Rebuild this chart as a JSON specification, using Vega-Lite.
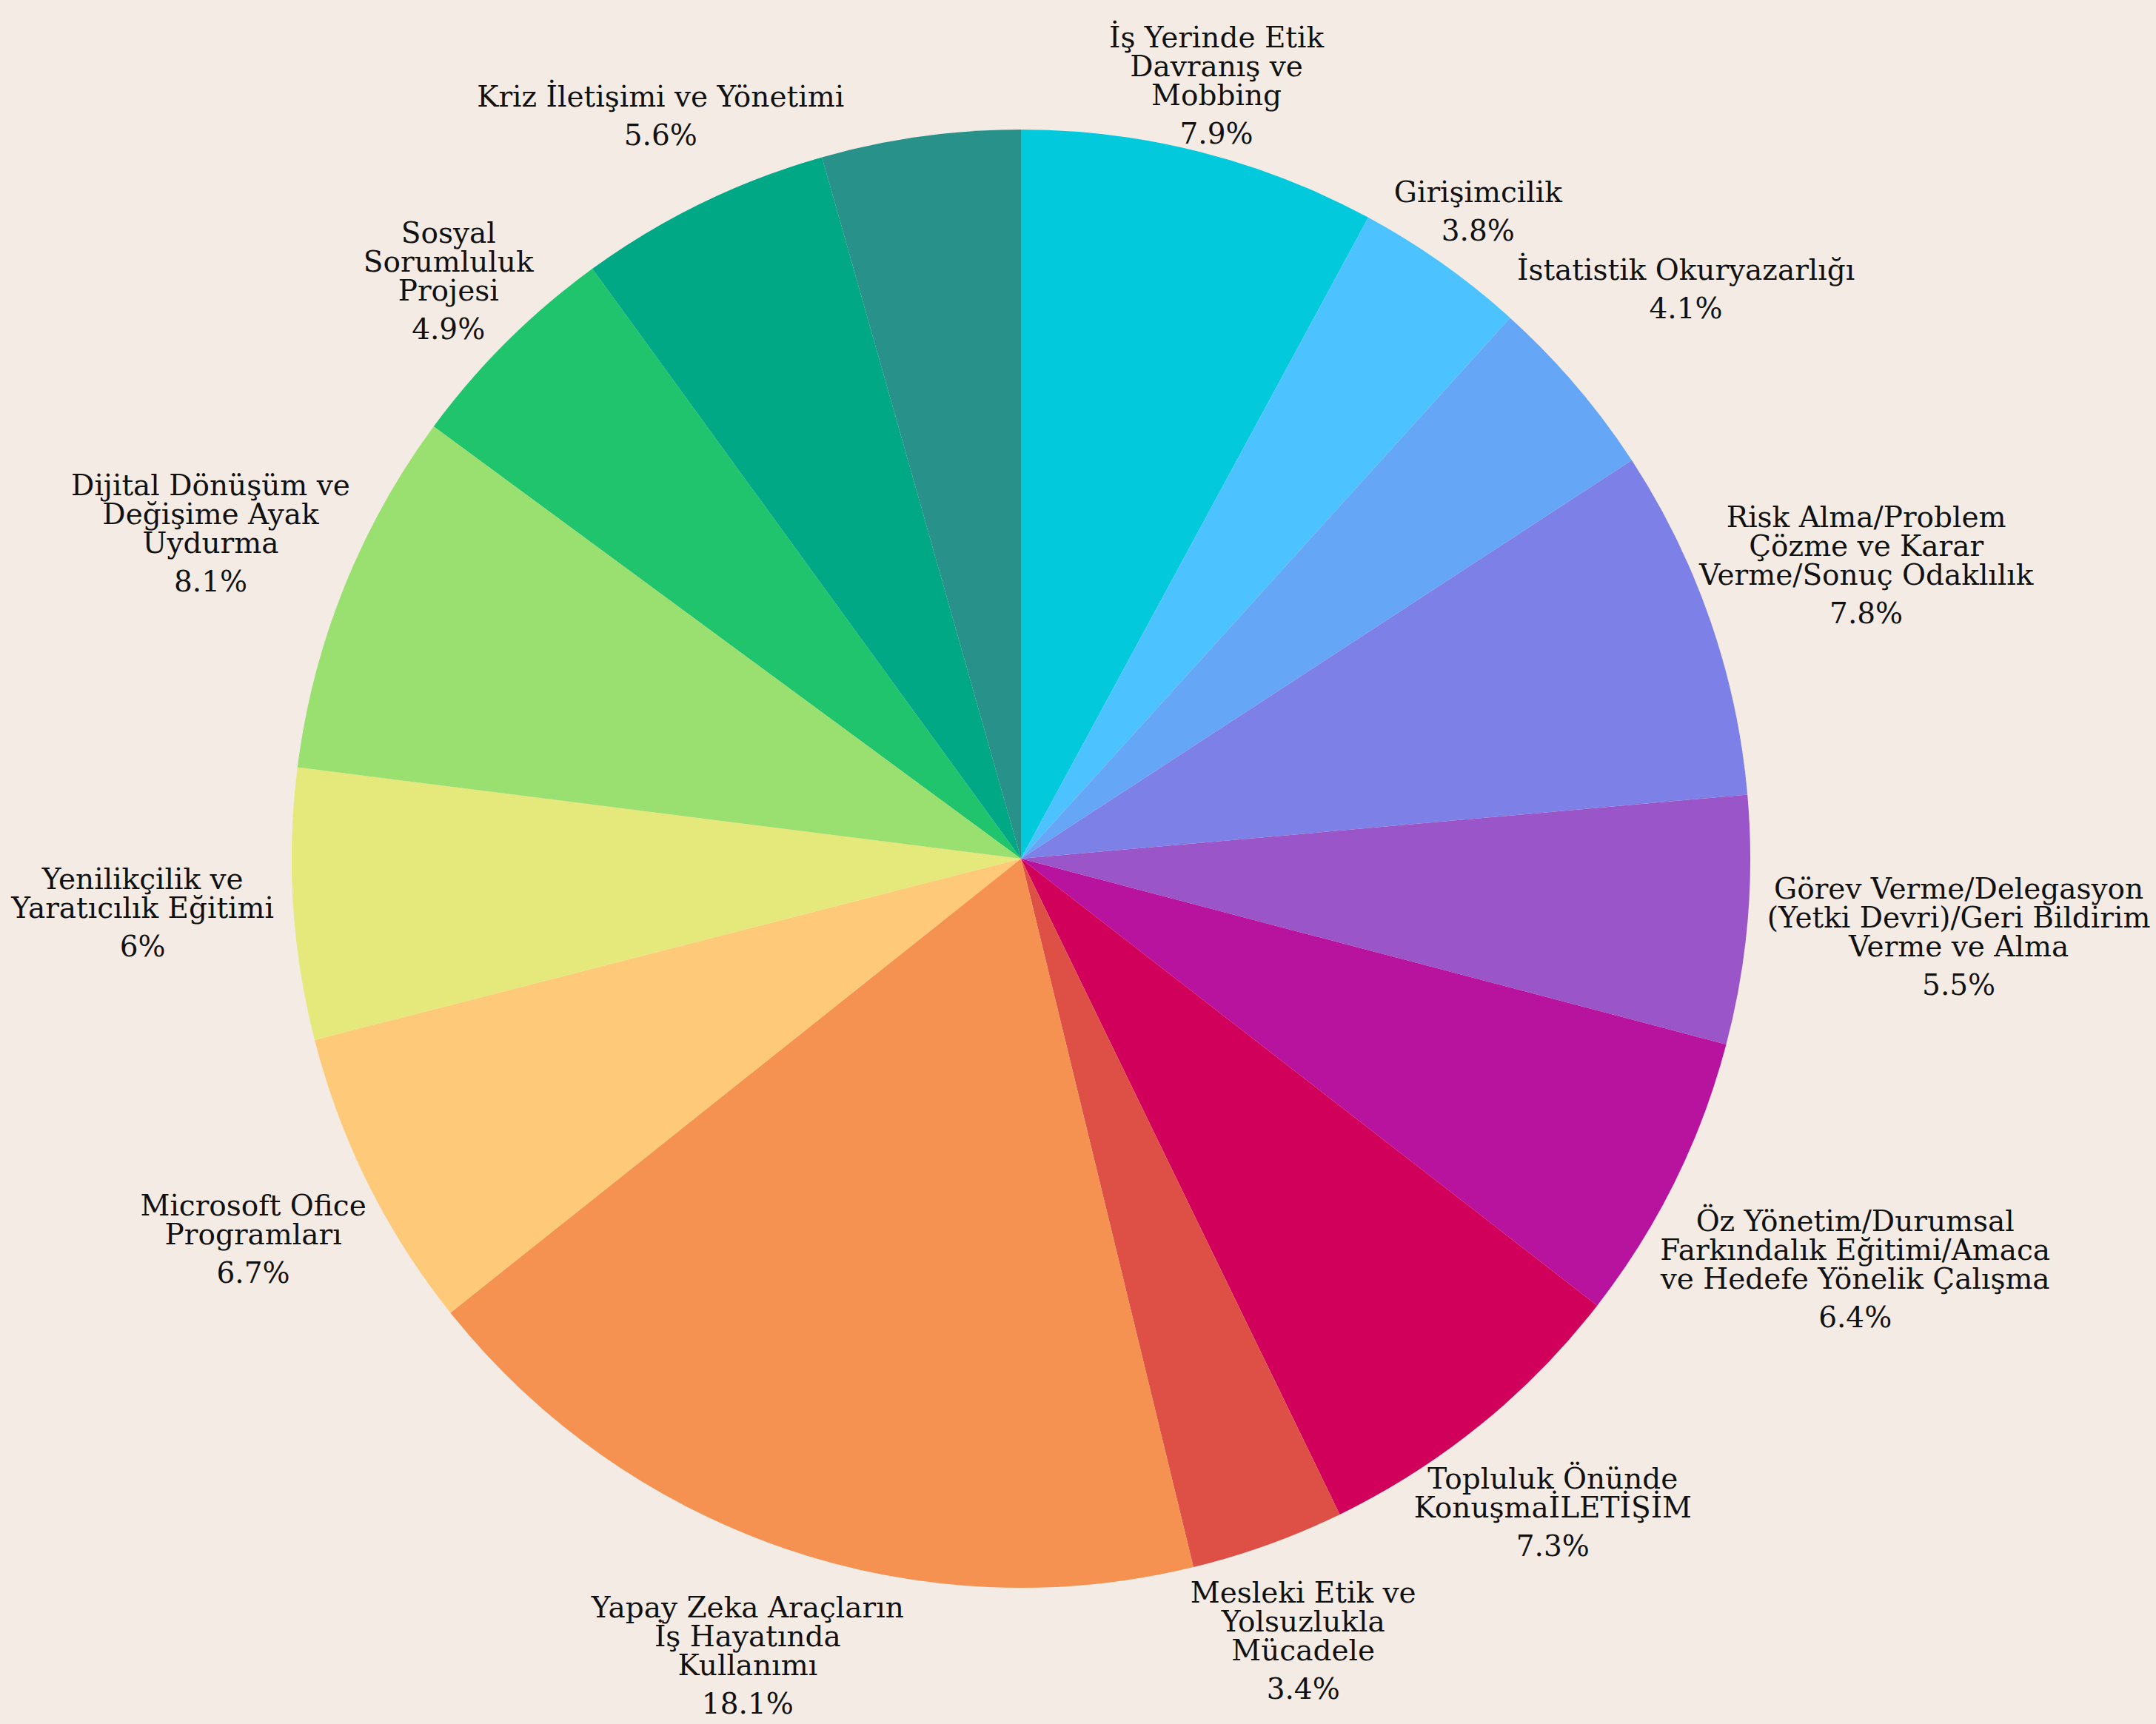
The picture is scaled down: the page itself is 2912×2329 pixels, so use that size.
{
  "$schema": "https://vega.github.io/schema/vega-lite/v6.json",
  "width": 2758,
  "height": 2320,
  "autosize": "none",
  "padding": {"left": 0, "top": 0, "right": 154, "bottom": 9},
  "background": "#F4ECE4",
  "config": {"view": {"stroke": null}},
  "data": {
    "values": [
      {"i": 1, "name": "İş Yerinde Etik\nDavranış ve\nMobbing", "share": 0.079},
      {"i": 2, "name": "Girişimcilik", "share": 0.038},
      {"i": 3, "name": "İstatistik Okuryazarlığı", "share": 0.041},
      {"i": 4, "name": "Risk Alma/Problem\nÇözme ve Karar\nVerme/Sonuç Odaklılık", "share": 0.078},
      {"i": 5, "name": "Görev Verme/Delegasyon\n(Yetki Devri)/Geri Bildirim\nVerme ve Alma", "share": 0.055},
      {"i": 6, "name": "Öz Yönetim/Durumsal\nFarkındalık Eğitimi/Amaca\nve Hedefe Yönelik Çalışma", "share": 0.064},
      {"i": 7, "name": "Topluluk Önünde\nKonuşmaİLETİŞİM", "share": 0.073},
      {"i": 8, "name": "Mesleki Etik ve\nYolsuzlukla\nMücadele", "share": 0.034},
      {"i": 9, "name": "Yapay Zeka Araçların\nİş Hayatında\nKullanımı", "share": 0.181},
      {"i": 10, "name": "Microsoft Ofice\nProgramları", "share": 0.067},
      {"i": 11, "name": "Yenilikçilik ve\nYaratıcılık Eğitimi", "share": 0.06},
      {"i": 12, "name": "Dijital Dönüşüm ve\nDeğişime Ayak\nUydurma", "share": 0.081},
      {"i": 13, "name": "Sosyal\nSorumluluk\nProjesi", "share": 0.049},
      {"i": 14, "name": "Kriz İletişimi ve Yönetimi", "share": 0.056},
      {"i": 15, "name": "", "share": 0.044}
    ]
  },
  "encoding": {
    "theta": {"field": "share", "type": "quantitative", "stack": true},
    "order": {"field": "i", "type": "quantitative"},
    "detail": {"field": "name", "type": "nominal"}
  },
  "layer": [
    {
      "mark": {"type": "arc", "radius": 985},
      "encoding": {
        "color": {
          "field": "name",
          "type": "nominal",
          "legend": null,
          "scale": {
            "domain": [
              "İş Yerinde Etik\nDavranış ve\nMobbing",
              "Girişimcilik",
              "İstatistik Okuryazarlığı",
              "Risk Alma/Problem\nÇözme ve Karar\nVerme/Sonuç Odaklılık",
              "Görev Verme/Delegasyon\n(Yetki Devri)/Geri Bildirim\nVerme ve Alma",
              "Öz Yönetim/Durumsal\nFarkındalık Eğitimi/Amaca\nve Hedefe Yönelik Çalışma",
              "Topluluk Önünde\nKonuşmaİLETİŞİM",
              "Mesleki Etik ve\nYolsuzlukla\nMücadele",
              "Yapay Zeka Araçların\nİş Hayatında\nKullanımı",
              "Microsoft Ofice\nProgramları",
              "Yenilikçilik ve\nYaratıcılık Eğitimi",
              "Dijital Dönüşüm ve\nDeğişime Ayak\nUydurma",
              "Sosyal\nSorumluluk\nProjesi",
              "Kriz İletişimi ve Yönetimi",
              ""
            ],
            "range": ["#02C9DB", "#4CC3FE", "#66A6F6", "#7D80E6", "#9A56C9", "#B8139E", "#D0005B", "#DE5045", "#F69251", "#FECA79", "#E5E87B", "#9AE070", "#1FC46C", "#00A886", "#27918A"]
          }
        }
      }
    },
    {
      "mark": {
        "type": "text",
        "font": "DejaVu Serif",
        "fontSize": 39,
        "lineHeight": 39,
        "lineBreak": "\n",
        "align": "center",
        "baseline": "top",
        "color": "#111111",
        "radius": {"expr": "995 - 40*max(cos(scale('theta', 0.5*datum.share_start + 0.5*datum.share_end)), 0) + (length(split(datum.name,'\\n'))*39+52)/2*abs(cos(scale('theta', 0.5*datum.share_start + 0.5*datum.share_end))) + 10*max(length(split(datum.name,'\\n')[0]), length(split(datum.name,'\\n')[1]||''), length(split(datum.name,'\\n')[2]||''))*abs(sin(scale('theta', 0.5*datum.share_start + 0.5*datum.share_end)))"},
        "dy": {"expr": "-(length(split(datum.name,'\\n'))*39 + 52)/2"}
      },
      "encoding": {"text": {"field": "name"}}
    },
    {
      "mark": {
        "type": "text",
        "font": "DejaVu Serif",
        "fontSize": 39,
        "align": "center",
        "baseline": "top",
        "color": "#111111",
        "radius": {"expr": "995 - 40*max(cos(scale('theta', 0.5*datum.share_start + 0.5*datum.share_end)), 0) + (length(split(datum.name,'\\n'))*39+52)/2*abs(cos(scale('theta', 0.5*datum.share_start + 0.5*datum.share_end))) + 10*max(length(split(datum.name,'\\n')[0]), length(split(datum.name,'\\n')[1]||''), length(split(datum.name,'\\n')[2]||''))*abs(sin(scale('theta', 0.5*datum.share_start + 0.5*datum.share_end)))"},
        "dy": {"expr": "(length(split(datum.name,'\\n'))*39 - 26)/2"}
      },
      "encoding": {
        "text": {"field": "share", "type": "quantitative", "format": ".1~%"},
        "opacity": {"condition": {"test": "datum.name === ''", "value": 0}, "value": 1}
      }
    }
  ]
}
